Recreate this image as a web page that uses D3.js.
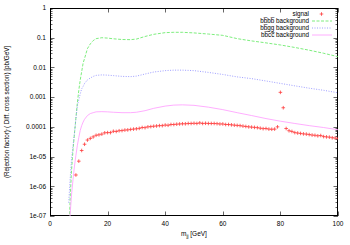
<!DOCTYPE html>
<html>
<head>
<meta charset="utf-8">
<script src="https://cdn.jsdelivr.net/npm/d3@7"></script>
<style>
  body { margin: 0; background: #fff; }
  text { font-family: "Liberation Sans", Arial, sans-serif; fill: #000; }
</style>
</head>
<body>
<svg id="chart" width="350" height="245"></svg>
<script>
// background curves, all on the same mass grid (GeV)
var mass = [6.5, 7, 7.5, 8, 8.5, 9, 9.5, 10, 10.5, 11, 11.5, 12, 13, 14, 15, 16, 18, 20, 22, 25, 28, 30, 33, 36, 40, 43, 46, 50, 55, 60, 65, 70, 75, 80, 85, 90, 95, 100];
var bbbb = [1e-8, 4e-7, 3.7e-6, 1.7e-5, 6e-5, 2e-4, 6.4e-4, 1.7e-3, 3.8e-3, 7.2e-3, 0.014, 0.02, 0.043, 0.062, 0.08, 0.093, 0.1, 0.097, 0.092, 0.087, 0.086, 0.09, 0.11, 0.13, 0.148, 0.152, 0.152, 0.145, 0.133, 0.12, 0.093, 0.078, 0.067, 0.057, 0.047, 0.038, 0.03, 0.023];
var bbgg = [2.8e-7, 1.8e-6, 8.7e-6, 2.3e-5, 6.3e-5, 1.9e-4, 5.2e-4, 8.1e-4, 1.3e-3, 1.9e-3, 2.3e-3, 2.9e-3, 3.8e-3, 4.4e-3, 5e-3, 5.4e-3, 5.6e-3, 5.5e-3, 5.3e-3, 5e-3, 4.9e-3, 5.1e-3, 6e-3, 7e-3, 7.8e-3, 8.1e-3, 8.1e-3, 7.8e-3, 6.8e-3, 5.8e-3, 4.8e-3, 4.2e-3, 3.5e-3, 2.9e-3, 2.4e-3, 2e-3, 1.7e-3, 1.4e-3];
var bbcc = [1e-8, 1.2e-7, 5.5e-7, 1.7e-6, 4.8e-6, 1.1e-5, 2.4e-5, 4.4e-5, 7.6e-5, 1.1e-4, 1.45e-4, 1.8e-4, 2.4e-4, 2.8e-4, 3e-4, 3.2e-4, 3.25e-4, 3.2e-4, 3.1e-4, 3e-4, 3e-4, 3.1e-4, 3.5e-4, 4.2e-4, 5e-4, 5.4e-4, 5.5e-4, 5.3e-4, 4.6e-4, 3.8e-4, 3e-4, 2.4e-4, 1.9e-4, 1.55e-4, 1.3e-4, 1.1e-4, 9.5e-5, 8e-5];

// signal points, one per GeV from 9 to 100
var sigMass = d3.range(9, 101);
var signal = [2.4e-6, 7e-6, 1.6e-5, 2.6e-5, 3.6e-5, 4.1e-5, 4.6e-5, 5.2e-5, 5.4e-5, 5.7e-5,
              6.3e-5, 6.4e-5, 6.4e-5, 7.1e-5, 7e-5, 7.4e-5, 7.5e-5, 7.8e-5, 7.9e-5, 8.2e-5,
              8.4e-5, 8.6e-5, 8.9e-5, 9.5e-5, 9.4e-5, 1e-4, 1.02e-4, 1.05e-4, 1.07e-4, 1.1e-4,
              1.1e-4, 1.15e-4, 1.13e-4, 1.2e-4, 1.2e-4, 1.23e-4, 1.25e-4, 1.27e-4, 1.27e-4, 1.3e-4,
              1.3e-4, 1.32e-4, 1.3e-4, 1.36e-4, 1.3e-4, 1.32e-4, 1.3e-4, 1.3e-4, 1.3e-4, 1.28e-4,
              1.25e-4, 1.25e-4, 1.2e-4, 1.2e-4, 1.17e-4, 1.14e-4, 1.12e-4, 1.1e-4, 1.06e-4, 1.03e-4,
              1e-4, 9.8e-5, 9.6e-5, 9.4e-5, 9e-5, 8.7e-5, 8.8e-5, 8.4e-5, 8.3e-5, 8.4e-5,
              1e-4, 1.45e-3, 4.4e-4, 8.8e-5, 7.4e-5, 7e-5, 6.4e-5, 6.2e-5, 6e-5, 5.8e-5,
              5.7e-5, 5.5e-5, 5.3e-5, 5.2e-5, 5e-5, 5.1e-5, 4.7e-5, 4.6e-5, 4.5e-5, 4.3e-5,
              4.2e-5, 4.1e-5];

var xTicks = [0, 20, 40, 60, 80, 100];
var yTicks = [1, 0.1, 0.01, 0.001, 0.0001, 1e-5, 1e-6, 1e-7];
var yTickLabels = ["1", "0.1", "0.01", "0.001", "0.0001", "1e-05", "1e-06", "1e-07"];

var svg = d3.select("#chart");
var pLeft = 50, pRight = 338, pTop = 8, pBottom = 216;

var x = d3.scaleLinear().domain([0, 100]).range([pLeft, pRight]);
var y = d3.scaleLog().domain([1e-7, 1]).range([pBottom, pTop]);

svg.append("defs").append("clipPath").attr("id", "plotclip")
    .append("rect")
    .attr("x", pLeft).attr("y", pTop)
    .attr("width", pRight - pLeft).attr("height", pBottom - pTop);

// minor log ticks
var minor = [];
for (var e = -7; e < 0; e++) {
    for (var m = 2; m <= 9; m++) minor.push(m * Math.pow(10, e));
}

var axes = svg.append("g").attr("class", "axes");

axes.selectAll(".yminor").data(minor).enter().append("path")
    .attr("d", function(d) {
        var yy = Math.round(y(d)) + 0.5;
        return "M" + pLeft + "," + yy + "h2.5M" + pRight + "," + yy + "h-2.5";
    })
    .style("stroke", "#000").style("stroke-width", 0.6);

axes.selectAll(".ymajor").data(yTicks).enter().append("path")
    .attr("d", function(d) {
        var yy = Math.round(y(d)) + 0.5;
        return "M" + pLeft + "," + yy + "h4.5M" + pRight + "," + yy + "h-4.5";
    })
    .style("stroke", "#000").style("stroke-width", 0.6);

axes.selectAll(".xmajor").data(xTicks).enter().append("path")
    .attr("d", function(d) {
        var xx = Math.round(x(d)) + 0.5;
        return "M" + xx + "," + pBottom + "v-4.5M" + xx + "," + pTop + "v4.5";
    })
    .style("stroke", "#000").style("stroke-width", 0.6);

axes.selectAll(".ylab").data(yTicks).enter().append("text")
    .attr("x", pLeft - 4)
    .attr("y", function(d) { return y(d) + 2.3; })
    .attr("text-anchor", "end")
    .style("font-size", "6.5px")
    .text(function(d, i) { return yTickLabels[i]; });

axes.selectAll(".xlab").data(xTicks).enter().append("text")
    .attr("x", function(d) { return x(d); })
    .attr("y", pBottom + 9.5)
    .attr("text-anchor", "middle")
    .style("font-size", "6.5px")
    .text(function(d) { return d; });

// frame
svg.append("rect")
    .attr("x", pLeft + 0.5).attr("y", pTop + 0.5)
    .attr("width", pRight - pLeft - 1).attr("height", pBottom - pTop - 1)
    .style("fill", "none").style("stroke", "#000").style("stroke-width", 1);

// axis titles
var xt = svg.append("text")
    .attr("x", (pLeft + pRight) / 2)
    .attr("y", 236)
    .attr("text-anchor", "middle")
    .style("font-size", "6.5px");
xt.append("tspan").text("m");
xt.append("tspan").attr("dy", 2).style("font-size", "4.5px").text("jj");
xt.append("tspan").attr("dy", -2).text(" [GeV]");

svg.append("text")
    .attr("transform", "translate(9," + ((pTop + pBottom) / 2) + ") rotate(-90)")
    .attr("text-anchor", "middle")
    .style("font-size", "6.3px")
    .text("(Rejection factor)\u00b7( Diff. cross section) [pb/GeV]");

// background curves
var series = [
    { name: "bb\u0305bb\u0305 background", vals: bbbb, color: "#5de85d", dash: "3,1.5" },
    { name: "bb\u0305gg background", vals: bbgg, color: "#8585ff", dash: "1,1.5" },
    { name: "bb\u0305cc\u0305 background", vals: bbcc, color: "#ff99ff", dash: null }
];

var line = d3.line()
    .x(function(d) { return x(d[0]); })
    .y(function(d) { return y(d[1]); });

var plot = svg.append("g").attr("clip-path", "url(#plotclip)");

series.forEach(function(s) {
    plot.append("path")
        .attr("d", line(d3.zip(mass, s.vals)))
        .style("fill", "none")
        .style("stroke", s.color)
        .style("stroke-width", 0.8)
        .style("stroke-dasharray", s.dash);
});

// signal crosses
var cross = function(px, py, r) {
    return "M" + (px - r) + "," + py + "h" + (2 * r) + "M" + px + "," + (py - r) + "v" + (2 * r);
};

plot.selectAll(".sig").data(d3.zip(sigMass, signal)).enter().append("path")
    .attr("d", function(d) { return cross(x(d[0]), y(d[1]), 1.8); })
    .style("stroke", "#ff3b3b")
    .style("stroke-width", 0.8)
    .style("fill", "none");

// legend
var lg = svg.append("g");
var rows = [{ name: "signal" }].concat(series);
rows.forEach(function(r, i) {
    var ly = 14 + i * 7;
    lg.append("text")
        .attr("x", 309)
        .attr("y", ly + 2.3)
        .attr("text-anchor", "end")
        .style("font-size", "6.3px")
        .text(r.name);
    if (i === 0) {
        lg.append("path")
            .attr("d", cross(321.5, ly, 1.8))
            .style("stroke", "#ff3b3b").style("stroke-width", 0.8);
    } else {
        lg.append("path")
            .attr("d", "M312," + ly + "H332")
            .style("stroke", r.color)
            .style("stroke-width", 0.8)
            .style("stroke-dasharray", r.dash);
    }
});
</script>
</body>
</html>
